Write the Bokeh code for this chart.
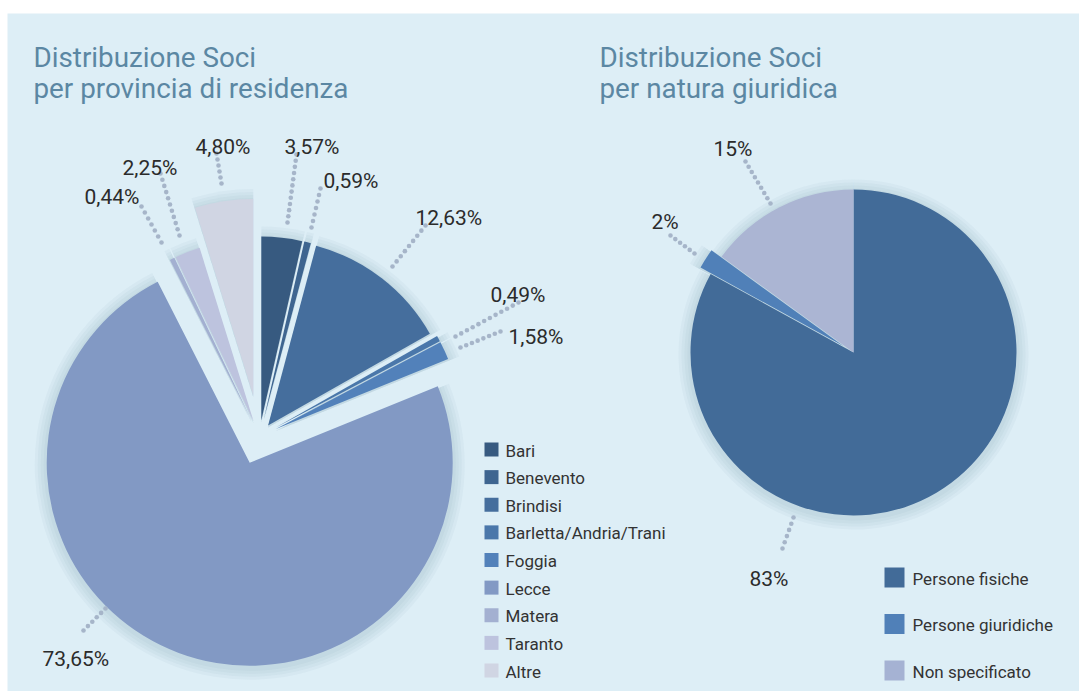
import math
from bokeh.plotting import figure
from bokeh.models import Range1d, ColumnDataSource
from bokeh.core.properties import value
from bokeh.embed import file_html
from bokeh.resources import INLINE

# ---------------- data ----------------
prov_names = ["Bari", "Benevento", "Brindisi", "Barletta/Andria/Trani", "Foggia",
              "Lecce", "Matera", "Taranto", "Altre"]
prov_values = [3.57, 0.59, 12.63, 0.49, 1.58, 73.65, 0.44, 2.25, 4.80]
prov_labels = ["3,57%", "0,59%", "12,63%", "0,49%", "1,58%", "73,65%", "0,44%", "2,25%", "4,80%"]

nat_names = ["Persone fisiche", "Persone giuridiche", "Non specificato"]
nat_values = [83, 2, 15]
nat_labels = ["83%", "2%", "15%"]

title_left = ["Distribuzione Soci", "per provincia di residenza"]
title_right = ["Distribuzione Soci", "per natura giuridica"]

# ---------------- style ----------------
prov_colors = ["#375A80", "#3E6590", "#456E9D", "#4A77AA", "#5281BA",
               "#8299C4", "#A3B0D1", "#BDC3DE", "#D0D5E3"]
nat_colors = ["#426B98", "#5080B8", "#ABB5D3"]
nat_legend_colors = ["#426B98", "#5080B8", "#A5B2D3"]

BG = "#DDEEF6"
TITLE_C = "#5B87A3"
TXT_C = "#2B2B2B"
DOT_C = "#A6B5C9"
FONT = value("Roboto")

W, H = 1079, 691
OFF = 0


def bx(rx):
    return rx - OFF


def by(ry):
    return H - (ry - OFF)


# left pie layout (reference pixel space)
L_CENTER = (259, 436)
L_EXPLODE = [16, 18, 14, 18, 18, 28, 16, 16, 42]
L_RADIUS = [184, 182, 186, 186, 186, 203, 182, 182, 196]

R_CENTER = (853, 352)
R_EXPLODE = [0, 12, 0]
R_RADIUS = [163, 163, 163]

# annotation layout: text left x / baseline y, leader start/end (reference pixels)
L_LABEL_POS = [(284, 146), (323, 180), (415, 217), (490, 294), (508, 336),
               (42, 658), (84, 196), (122, 167), (195, 146)]
L_LEADERS = [((287, 222), (296, 154)), ((311, 227), (320, 188)), ((392, 266), (425, 225)),
             ((455, 336), (518, 302)), ((460, 347), (500, 331)), ((83, 630), (105, 608)),
             ((161, 242), (141, 206)), ((179, 235), (160, 173)), ((221, 183), (216, 153))]
R_LABEL_POS = [(749, 578), (651, 221), (713, 148)]
R_LEADERS = [((793, 517), (782, 548)), ((694, 253), (670, 235)), ((770, 203), (745, 161))]

p = figure(width=W, height=H, output_backend="svg", toolbar_location=None,
           x_range=Range1d(0, W), y_range=Range1d(0, H),
           x_axis_location=None, y_axis_location=None, min_border=0)
p.grid.visible = False
p.outline_line_color = None
p.background_fill_color = "white"
p.border_fill_color = "white"

# panel
p.quad(left=[bx(7)], right=[W], bottom=[0], top=[by(13)], fill_color=BG, line_color=None)


def pie(center, vals, radii, explode, colors, shadow=True):
    cx, cy = center
    total = float(sum(vals))
    cum = 0.0
    geo = []
    for v, r, d, c in zip(vals, radii, explode, colors):
        a0 = 90 - (cum + v) / total * 360.0
        a1 = 90 - cum / total * 360.0
        mid = math.radians((a0 + a1) / 2)
        ax = cx + d * math.cos(mid)
        ay = cy - d * math.sin(mid)
        geo.append((bx(ax), by(ay), r, math.radians(a0), math.radians(a1), c))
        cum += v
    if shadow:
        for k in (12, 9, 6, 3):
            p.wedge(x=[g[0] for g in geo], y=[g[1] - 2 for g in geo],
                    radius=[g[2] + k for g in geo],
                    start_angle=[g[3] for g in geo], end_angle=[g[4] for g in geo],
                    fill_color="#4d6f80", fill_alpha=0.045, line_color=None)
    src = ColumnDataSource(dict(x=[g[0] for g in geo], y=[g[1] for g in geo],
                                r=[g[2] for g in geo], s=[g[3] for g in geo],
                                e=[g[4] for g in geo], c=[g[5] for g in geo]))
    p.wedge(x="x", y="y", radius="r", start_angle="s", end_angle="e",
            fill_color="c", line_color=None, source=src)


pie(L_CENTER, prov_values, L_RADIUS, L_EXPLODE, prov_colors)
pie(R_CENTER, nat_values, R_RADIUS, R_EXPLODE, nat_colors)


def dots(a, b, step=6.4):
    (x0, y0), (x1, y1) = a, b
    L = math.hypot(x1 - x0, y1 - y0)
    n = max(2, int(round(L / step)) + 1)
    xs = [bx(x0 + (x1 - x0) * i / (n - 1)) for i in range(n)]
    ys = [by(y0 + (y1 - y0) * i / (n - 1)) for i in range(n)]
    return xs, ys


dx, dy = [], []
for a, b in L_LEADERS + R_LEADERS:
    xs, ys = dots(a, b)
    dx += xs
    dy += ys
p.scatter(dx, dy, size=4.6, marker="circle", fill_color=DOT_C, line_color=None)

# percentage labels
lab_x = [bx(x) for x, _ in L_LABEL_POS + R_LABEL_POS]
lab_y = [by(y) for _, y in L_LABEL_POS + R_LABEL_POS]
p.text(x=lab_x, y=lab_y, text=prov_labels + nat_labels, text_font=FONT,
       text_font_size="21px", text_color=TXT_C, text_baseline="alphabetic", text_align="left")

# titles
p.text(x=[bx(33), bx(33), bx(599), bx(599)], y=[by(57), by(88), by(57), by(88)],
       text=title_left + title_right, text_font=FONT, text_font_size="27.8px",
       text_color=TITLE_C, text_baseline="alphabetic", text_align="left")

# left legend
step = (670 - 449) / (len(prov_names) - 1)
ly = [by(449 + i * step) for i in range(len(prov_names))]
p.rect(x=[bx(491)] * len(prov_names), y=ly, width=14, height=14,
       fill_color=prov_colors, line_color=None)
p.text(x=[bx(505)] * len(prov_names), y=[v - 1 for v in ly], text=prov_names, text_font=FONT,
       text_font_size="17px", text_color="#333333", text_baseline="middle", text_align="left")

# right legend
rstep = (670 - 577) / 2
ry = [by(577 + i * rstep) for i in range(3)]
p.rect(x=[bx(894)] * 3, y=ry, width=20, height=20, fill_color=nat_legend_colors, line_color=None)
p.text(x=[bx(912)] * 3, y=[v - 1 for v in ry], text=nat_names, text_font=FONT,
       text_font_size="17px", text_color="#333333", text_baseline="middle", text_align="left")

open("out.html", "w").write(file_html(p, INLINE))
